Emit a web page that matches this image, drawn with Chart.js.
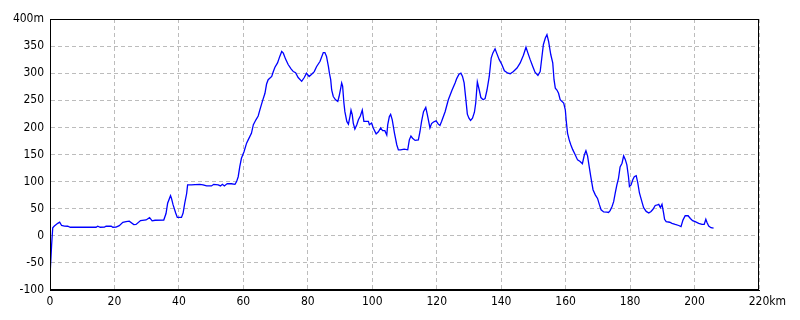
<!DOCTYPE html>
<html>
<head>
<meta charset="utf-8">
<script src="https://cdn.jsdelivr.net/npm/chart.js@4"></script>
<style>
html,body{margin:0;padding:0;background:#fff;}
#wrap{width:800px;height:320px;position:relative;}
</style>
</head>
<body>
<div id="wrap"><canvas id="c" width="800" height="320"></canvas></div>
<script>
const distanceKm = [0,0.1,0.5,0.85,1.35,2.4,3.0,3.6,4.5,5.5,6.3,14.3,14.8,15.6,16.9,17.4,19.0,19.5,20.5,21.5,22.6,23.6,24.6,26.0,26.7,28.1,29.8,30.9,31.7,32.6,35.3,36.0,36.5,37.4,37.7,38.2,39.0,39.5,40.8,41.3,41.8,42.4,42.7,43.9,45,46.5,47.5,48.6,50.1,50.8,52.2,52.9,53.5,54.1,55,56.3,57.4,57.9,58.4,58.9,59.4,60.2,61,61.5,62.5,63.1,63.9,64.6,65.1,65.9,66.7,67.2,67.7,68.8,69.3,69.8,70.6,71.3,71.9,72.4,73.1,73.9,74.8,75.5,76.2,77.0,78.1,78.9,79.6,80.4,81.2,82,82.7,83.8,84.8,85.3,85.8,86.4,86.7,87.1,87.4,87.9,88.6,89.3,89.7,90.2,90.5,90.8,91.2,91.5,92.1,92.6,93.1,93.4,93.8,94.1,94.6,95.2,95.7,96.3,96.9,97.4,98.8,99.1,99.8,100.3,101.2,101.9,102.6,103.2,103.9,104.5,104.8,105.3,105.7,106.2,106.9,107.6,108.1,108.8,109.9,111,111.5,112.0,112.5,113.3,114.3,114.8,115.3,115.9,116.6,117.1,117.9,118.4,119.0,119.8,120.5,121,121.5,122.6,123.6,124.7,125.7,126.2,126.9,127.5,128,128.5,129,129.5,130,130.5,131.1,131.7,132.1,132.6,133.2,133.7,134.4,135,135.6,136.3,136.9,137.4,138.1,138.6,139.4,140.2,141,142.1,142.8,143.8,144.9,145.9,146.9,147.7,148.3,149,149.8,150.5,151.4,152.1,152.6,153.1,153.7,154.2,154.7,155.4,156.0,156.4,156.8,157.3,157.8,158.3,159.4,159.9,160.2,160.6,161.1,161.6,162.2,163,163.7,164.5,165.2,165.8,166.3,166.8,167.3,167.8,168.5,169.2,169.9,170.5,171.0,171.8,172.8,173.3,173.8,174.4,174.9,175.4,175.9,176.4,176.9,177.5,178,178.5,179,179.5,179.8,180.3,180.8,181.3,181.9,182.4,182.9,183.7,184.2,185,185.8,186.5,187.1,187.8,188.5,188.9,189.4,189.9,190.4,190.7,191.2,192.3,193,194,195.1,195.8,196.1,196.4,197.1,198,198.7,199.4,200.2,201.3,202.3,203,203.5,203.9,204.4,205.1,205.9];
const elevationM = [-100,-63,-17,15,18,23,25,19,18,17.6,15.8,15.8,17.6,15.8,16,17.6,17.6,15.8,16,18.8,25,26,27,20.7,21,28,29.3,33.6,27.5,28.7,29,41,60,74,69,57,42,34,34,42,60,78,94,94,94.5,95,94,92,92,95,94,92,95,92,96.4,96,95,100,109,128,143,155,171,177,189,205,214,221,232,248,263,280,288,294,303,311,319,331,340,337,326,316,308,303,301,292,285,292,300,294,298,303,312,322,338,338,331,312,300,288,269,257,251,248,257,272,282,276,245,229,211,206,221,232,223,208,197,205,214,221,232,211,211,205,208,199,188,192,199,194,194,186,205,220,224,214,189,168,158.6,158.6,160,158.6,177,184,180,176,177,192,211,229,237,223,199,207,210,212,206,203.5,211,229,251,268,282,290,298,300,294,282,254,224.5,217,213,217,228,245,284,269,255,251,253,269,294,328,337,345,337,325,316,304.5,300,299,303,309.5,319,333,348,337,325,312.5,302,296,303,328,353,365,371,359,334,319,288,272.5,269,263,251,245,232.5,211,189,177,168,159,149,140,137,133,149,157,147.5,128,109,85,75.5,69,57,48,44,43.5,43,46.5,54,63,79,94,106,127,134,147.5,141,131,109,91,94,103,109,111,97,79,62,52,45,42,45,49,56,57,58,52,58,42,30.5,26,25,23,21,19,17,17,29,37,37,32,28,26,23,21,21,30.5,24,18,15,14];
const xTicks = [0,20,40,60,80,100,120,140,160,180,200,220];
const yTicks = [-100,-50,0,50,100,150,200,250,300,350,400];
const xUnit = 'km';
const yUnit = 'm';

const FONT = {family: "'Liberation Sans Narrow','DejaVu Sans Condensed','Liberation Sans',sans-serif", size: 12};

const points = distanceKm.map((x, i) => ({x: x, y: elevationM[i]}));

const framePlugin = {
  id: 'frame',
  afterDatasetsDraw(chart) {
    const a = chart.chartArea, ctx = chart.ctx;
    ctx.save();
    ctx.strokeStyle = '#000';
    ctx.lineWidth = 1;
    ctx.strokeRect(Math.round(a.left) + 0.5, Math.round(a.top) + 0.5, Math.round(a.right - a.left) - 1, Math.round(a.bottom - a.top) - 1);
    const xs = chart.scales.x;
    const last = xTicks[xTicks.length - 1];
    ctx.font = FONT.size + "px " + FONT.family;
    ctx.fillStyle = '#000';
    ctx.textBaseline = 'middle';
    ctx.textAlign = 'left';
    const w = ctx.measureText(String(last)).width;
    ctx.fillText(xUnit, xs.getPixelForValue(last) + w / 2, a.bottom + 12);
    ctx.restore();
  }
};

new Chart(document.getElementById('c'), {
  type: 'scatter',
  data: {
    datasets: [{
      data: points,
      showLine: true,
      borderColor: '#0000ff',
      borderWidth: 1.3,
      pointRadius: 0,
      tension: 0,
      fill: false
    }]
  },
  options: {
    responsive: false,
    animation: false,
    devicePixelRatio: 1,
    layout: {padding: {top: 19, right: 41, bottom: 0, left: 0}},
    plugins: {legend: {display: false}, tooltip: {enabled: false}},
    scales: {
      x: {
        type: 'linear',
        min: 0, max: 220,
        afterBuildTicks(s) { s.ticks = xTicks.map(v => ({value: v})); },
        afterFit(s) { s.height = 30; },
        ticks: {color: '#000', font: FONT, padding: 5, maxRotation: 0, autoSkip: false,
          callback: v => String(v)},
        grid: {color: '#bcbcbc', drawTicks: false, lineWidth: 1},
        border: {display: true, color: '#000', z: 1, dash: [4, 3]}
      },
      y: {
        type: 'linear',
        min: -100, max: 400,
        afterBuildTicks(s) { s.ticks = yTicks.map(v => ({value: v})); },
        afterFit(s) { s.width = 50; },
        ticks: {color: '#000', font: FONT, padding: 6, autoSkip: false,
          callback: v => v === 400 ? v + yUnit : String(v)},
        grid: {color: '#bcbcbc', drawTicks: false, lineWidth: 1},
        border: {display: true, color: '#000', z: 1, dash: [4, 3]}
      }
    }
  },
  plugins: [framePlugin]
});
</script>
</body>
</html>
